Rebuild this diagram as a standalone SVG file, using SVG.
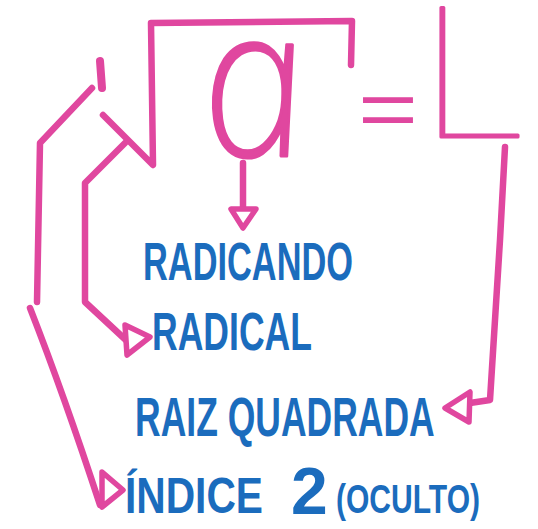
<svg xmlns="http://www.w3.org/2000/svg" width="538" height="529" viewBox="0 0 538 529">
<style>
.pen{fill:none;stroke:#e0479f;stroke-width:6.5;stroke-linecap:round;stroke-linejoin:round}
.head{fill:#ffffff;stroke:#e0479f;stroke-width:5.5;stroke-linejoin:round}
.mag{fill:#e0479f}
.thin{fill:#e0479f;stroke:#e0479f;stroke-width:1.5;stroke-linejoin:round}
.lbl{fill:#1b6cbd;font-family:"Liberation Sans",Arial,sans-serif;font-weight:bold}
</style>
<rect width="538" height="529" fill="#ffffff"/>
<g id="formula">
  <path class="pen" d="M103,115 L153,165 L151,23 L352,21 L351,65"/>
  <path class="pen" d="M100,61 L102,88" style="stroke-width:8"/>
  <text class="thin" x="100" y="150" transform="translate(262,156) skewX(8) scale(1.8,2) translate(-100,-150)" text-anchor="middle" font-family="'Noto Sans','Open Sans',sans-serif" font-style="italic" font-weight="200" font-size="105">a</text>
  <text class="mag" x="358" y="136" textLength="60" lengthAdjust="spacingAndGlyphs" font-family="'Liberation Sans',Arial,sans-serif" font-size="80">=</text>
  <text class="thin" x="100" y="150" transform="translate(417,137) scale(2) translate(-100,-150)" textLength="52" lengthAdjust="spacingAndGlyphs" font-family="Lato,sans-serif" font-weight="200" font-size="92.5">L</text>
</g>
<g id="connectors">
  <path class="pen" d="M243,163 L243,208"/>
  <path class="head" d="M231,209 L256,209 L243,228 Z"/>
  <path class="pen" d="M125,143 L85,183 L85,302 L128,342"/>
  <path class="head" d="M125,325 L150,337 L127,355 Z"/>
  <path class="pen" d="M92,88 L40,143 L37,302"/>
  <path class="pen" d="M30,308 Q64,395 100,505"/>
  <path class="head" d="M102,472 L123,490 L102,507 Z"/>
  <path class="pen" d="M505,147 L500,240 L490,400 L470,403"/>
  <path class="head" d="M445,408 L470,392 L469,422 Z"/>
</g>
<g id="radicando">
  <text class="lbl" x="143" y="280" font-size="53" textLength="210" lengthAdjust="spacingAndGlyphs">RADICANDO</text>
</g>
<g id="radical">
  <text class="lbl" x="152" y="350" font-size="54" textLength="160" lengthAdjust="spacingAndGlyphs">RADICAL</text>
</g>
<g id="raiz-quadrada">
  <text class="lbl" x="0" y="0" font-size="56" transform="translate(135,436) scale(0.634,1)">RAIZ QUADRADA</text>
</g>
<g id="indice">
  <text class="lbl" y="513"><tspan x="125" font-size="50" textLength="138" lengthAdjust="spacingAndGlyphs">ÍNDICE</tspan><tspan x="291" y="514" font-size="66">2</tspan><tspan x="336" y="513" font-size="40" textLength="144" lengthAdjust="spacingAndGlyphs">(OCULTO)</tspan></text>
</g>
</svg>
